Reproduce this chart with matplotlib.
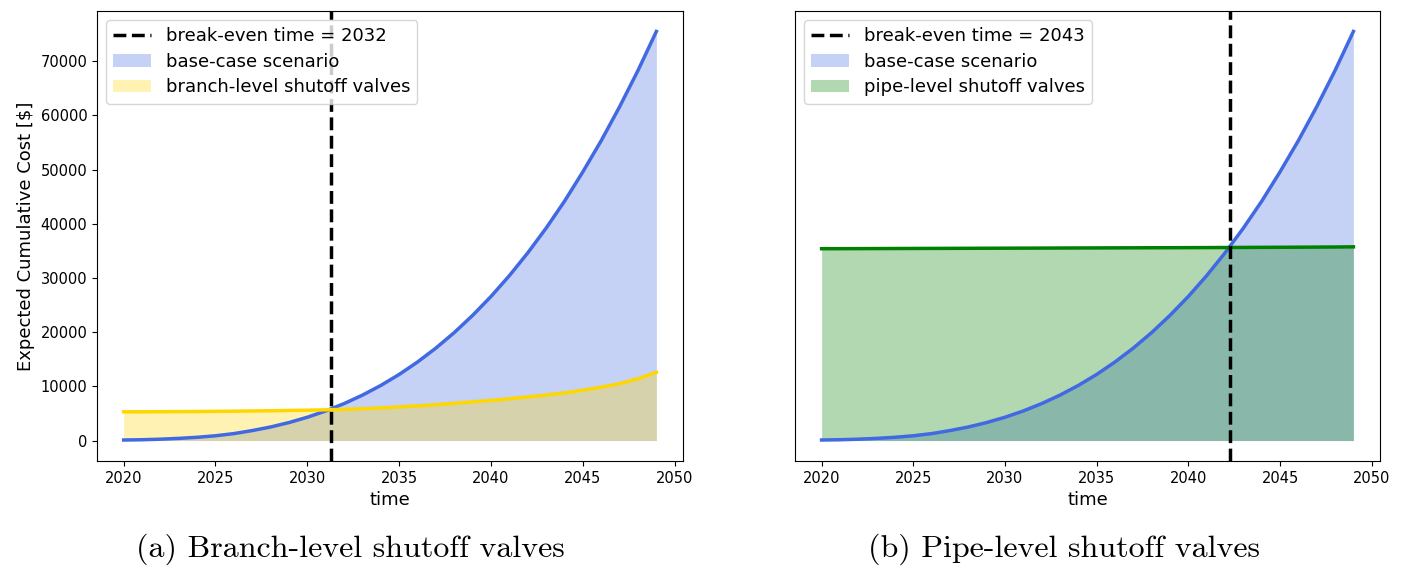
import matplotlib
matplotlib.use("Agg")
import matplotlib.pyplot as plt

years = list(range(2020, 2050))
base_case = [100, 150, 250, 400, 600, 880, 1280, 1840, 2500, 3320,
             4300, 5460, 6820, 8380, 10170, 12200, 14500, 17070, 19930, 23110,
             26600, 30440, 34640, 39210, 44170, 49600, 55360, 61610, 68300, 75500]
branch_level = [5300, 5310, 5320, 5340, 5360, 5390, 5420, 5460, 5500, 5550,
                5600, 5670, 5750, 5880, 6020, 6200, 6400, 6620, 6870, 7150,
                7400, 7700, 8050, 8400, 8800, 9300, 9850, 10500, 11400, 12600]
pipe_level = [35400, 35410, 35420, 35430, 35440, 35450, 35460, 35470, 35480, 35490,
              35500, 35510, 35520, 35530, 35540, 35550, 35560, 35570, 35580, 35590,
              35600, 35610, 35625, 35640, 35655, 35670, 35685, 35700, 35720, 35750]
breakeven_branch = 2031.3
breakeven_pipe = 2042.26
breakeven_labels = ["break-even time = 2032", "break-even time = 2043"]
captions = ["(a) Branch-level shutoff valves", "(b) Pipe-level shutoff valves"]

fig = plt.figure(figsize=(14.03, 5.69), dpi=100)
ax1 = fig.add_axes([97/1403, 1-461/569, (683-97)/1403, (461-11)/569])
ax2 = fig.add_axes([795/1403, 1-461/569, (1380-795)/1403, (461-11)/569], sharey=ax1)

def panel(ax, alt, alt_color, alt_label, be, be_label):
    ax.plot(years, base_case, color="royalblue", lw=2.5)
    ax.plot(years, alt, color=alt_color, lw=2.5)
    ax.axvline(be, color="black", ls="--", lw=2.5, label=be_label)
    ax.fill_between(years, base_case, color="royalblue", alpha=0.3, lw=0, label="base-case scenario")
    ax.fill_between(years, alt, color=alt_color, alpha=0.3, lw=0, label=alt_label)
    ax.set_xlabel("time", fontsize=13)
    ax.tick_params(labelsize=10.5)
    ax.set_xticks([2020, 2025, 2030, 2035, 2040, 2045, 2050])
    ax.legend(loc="upper left", fontsize=13, labelspacing=0.42, handlelength=2.1)

panel(ax1, branch_level, "gold", "branch-level shutoff valves", breakeven_branch, breakeven_labels[0])
panel(ax2, pipe_level, "green", "pipe-level shutoff valves", breakeven_pipe, breakeven_labels[1])
ax1.set_ylabel("Expected Cumulative Cost [$]", fontsize=13)
ax2.tick_params(left=False, labelleft=False)
ax1.set_xlim(2018.55, 2050.45)
ax2.set_xlim(2018.55, 2050.45)

fig.text(350/1403, 1-549/569, captions[0], family="cmr10", fontsize=23, ha="center", va="center")
fig.text(1064/1403, 1-549/569, captions[1], family="cmr10", fontsize=23, ha="center", va="center")

fig.savefig("out.png", dpi=100)
